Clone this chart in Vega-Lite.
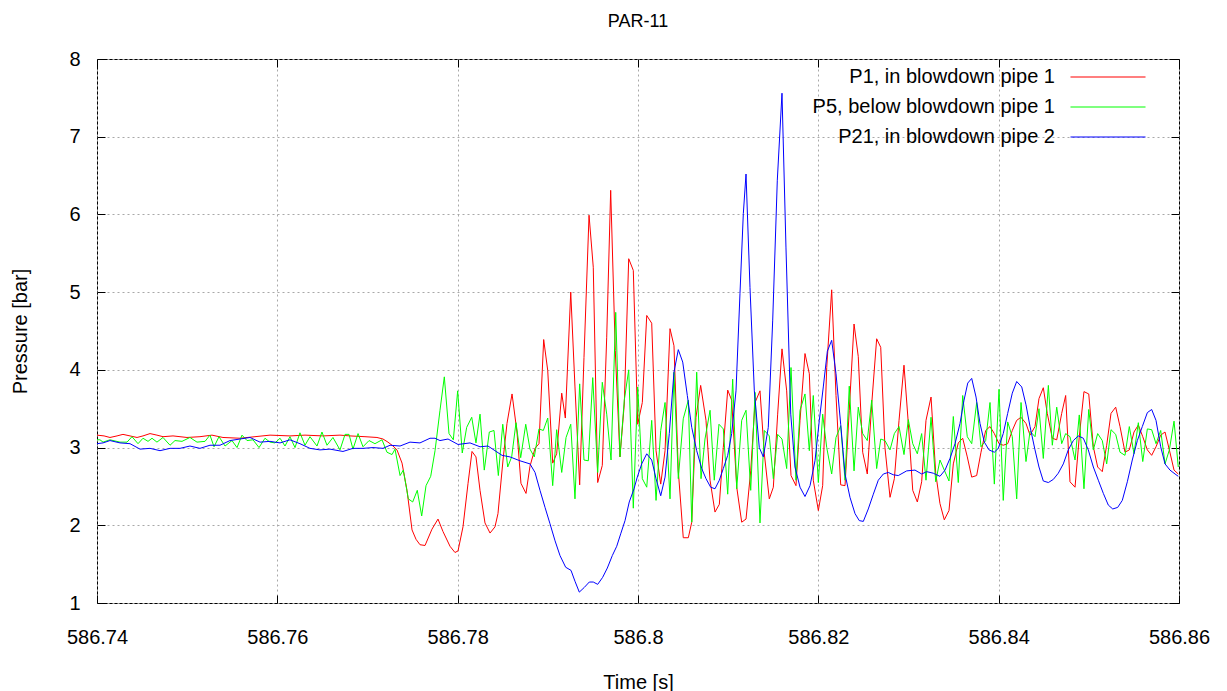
{
  "$schema": "https://vega.github.io/schema/vega-lite/v6.json",
  "width": 1082,
  "height": 544,
  "autosize": {"type": "none"},
  "padding": {"left": 97, "top": 59, "right": 48, "bottom": 88},
  "background": "white",
  "title": {"text": "PAR-11", "fontSize": 18, "font": "Liberation Sans", "fontWeight": "normal", "color": "black", "offset": 0, "baseline": "bottom", "frame": "group"},
  "config": {
    "font": "Liberation Sans",
    "view": {"stroke": "black", "strokeWidth": 1},
    "axis": {"labelFont": "Liberation Sans", "labelFontSize": 20, "titleFont": "Liberation Sans", "titleFontSize": 20, "titleFontWeight": "normal", "labelColor": "black", "titleColor": "black", "domain": false, "gridColor": "#a8a8a8", "gridDash": [2, 3], "gridWidth": 1, "tickColor": "black", "tickSize": -8, "tickWidth": 1, "labelFlush": false, "labelOverlap": false}
  },
  "data": {"values": [
{"s":"P1","t":586.74000,"v":3.16},{"s":"P1","t":586.74078,"v":3.15},{"s":"P1","t":586.74144,"v":3.13},{"s":"P1","t":586.74222,"v":3.15},{"s":"P1","t":586.74288,"v":3.17},{"s":"P1","t":586.74366,"v":3.15},{"s":"P1","t":586.74444,"v":3.13},{"s":"P1","t":586.74510,"v":3.15},{"s":"P1","t":586.74588,"v":3.18},{"s":"P1","t":586.74665,"v":3.16},{"s":"P1","t":586.74732,"v":3.14},{"s":"P1","t":586.74843,"v":3.15},{"s":"P1","t":586.74998,"v":3.13},{"s":"P1","t":586.75142,"v":3.14},{"s":"P1","t":586.75275,"v":3.16},{"s":"P1","t":586.75397,"v":3.13},{"s":"P1","t":586.75586,"v":3.12},{"s":"P1","t":586.75752,"v":3.14},{"s":"P1","t":586.75919,"v":3.16},{"s":"P1","t":586.76140,"v":3.15},{"s":"P1","t":586.76307,"v":3.16},{"s":"P1","t":586.76506,"v":3.15},{"s":"P1","t":586.76695,"v":3.16},{"s":"P1","t":586.76806,"v":3.15},{"s":"P1","t":586.76972,"v":3.14},{"s":"P1","t":586.77105,"v":3.13},{"s":"P1","t":586.77172,"v":3.11},{"s":"P1","t":586.77227,"v":3.07},{"s":"P1","t":586.77283,"v":3.02},{"s":"P1","t":586.77327,"v":2.97},{"s":"P1","t":586.77383,"v":2.80},{"s":"P1","t":586.77438,"v":2.45},{"s":"P1","t":586.77494,"v":1.94},{"s":"P1","t":586.77538,"v":1.82},{"s":"P1","t":586.77582,"v":1.75},{"s":"P1","t":586.77638,"v":1.74},{"s":"P1","t":586.77715,"v":1.95},{"s":"P1","t":586.77782,"v":2.08},{"s":"P1","t":586.77837,"v":1.92},{"s":"P1","t":586.77915,"v":1.73},{"s":"P1","t":586.77970,"v":1.65},{"s":"P1","t":586.78004,"v":1.67},{"s":"P1","t":586.78059,"v":1.98},{"s":"P1","t":586.78115,"v":2.54},{"s":"P1","t":586.78159,"v":2.95},{"s":"P1","t":586.78203,"v":2.88},{"s":"P1","t":586.78248,"v":2.45},{"s":"P1","t":586.78303,"v":2.03},{"s":"P1","t":586.78359,"v":1.90},{"s":"P1","t":586.78414,"v":1.98},{"s":"P1","t":586.78447,"v":2.15},{"s":"P1","t":586.78503,"v":2.84},{"s":"P1","t":586.78547,"v":3.31},{"s":"P1","t":586.78603,"v":3.69},{"s":"P1","t":586.78658,"v":3.20},{"s":"P1","t":586.78702,"v":2.54},{"s":"P1","t":586.78758,"v":2.41},{"s":"P1","t":586.78802,"v":2.76},{"s":"P1","t":586.78858,"v":2.99},{"s":"P1","t":586.78902,"v":3.05},{"s":"P1","t":586.78954,"v":4.39},{"s":"P1","t":586.78999,"v":3.99},{"s":"P1","t":586.79054,"v":2.80},{"s":"P1","t":586.79098,"v":2.92},{"s":"P1","t":586.79154,"v":3.70},{"s":"P1","t":586.79194,"v":3.38},{"s":"P1","t":586.79254,"v":5.00},{"s":"P1","t":586.79301,"v":3.78},{"s":"P1","t":586.79353,"v":2.52},{"s":"P1","t":586.79401,"v":4.16},{"s":"P1","t":586.79457,"v":5.99},{"s":"P1","t":586.79504,"v":5.32},{"s":"P1","t":586.79553,"v":2.55},{"s":"P1","t":586.79604,"v":2.77},{"s":"P1","t":586.79653,"v":4.42},{"s":"P1","t":586.79697,"v":6.31},{"s":"P1","t":586.79748,"v":4.25},{"s":"P1","t":586.79800,"v":2.88},{"s":"P1","t":586.79848,"v":3.56},{"s":"P1","t":586.79897,"v":5.43},{"s":"P1","t":586.79948,"v":5.28},{"s":"P1","t":586.79997,"v":3.30},{"s":"P1","t":586.80048,"v":3.58},{"s":"P1","t":586.80097,"v":4.70},{"s":"P1","t":586.80152,"v":4.60},{"s":"P1","t":586.80200,"v":2.96},{"s":"P1","t":586.80252,"v":2.53},{"s":"P1","t":586.80300,"v":2.96},{"s":"P1","t":586.80355,"v":4.53},{"s":"P1","t":586.80399,"v":4.31},{"s":"P1","t":586.80447,"v":2.70},{"s":"P1","t":586.80502,"v":1.84},{"s":"P1","t":586.80558,"v":1.84},{"s":"P1","t":586.80596,"v":2.04},{"s":"P1","t":586.80643,"v":3.39},{"s":"P1","t":586.80695,"v":3.80},{"s":"P1","t":586.80754,"v":3.35},{"s":"P1","t":586.80799,"v":2.58},{"s":"P1","t":586.80854,"v":2.17},{"s":"P1","t":586.80902,"v":2.27},{"s":"P1","t":586.80946,"v":3.00},{"s":"P1","t":586.80995,"v":3.74},{"s":"P1","t":586.81039,"v":3.61},{"s":"P1","t":586.81095,"v":2.49},{"s":"P1","t":586.81150,"v":2.04},{"s":"P1","t":586.81198,"v":2.08},{"s":"P1","t":586.81250,"v":2.70},{"s":"P1","t":586.81298,"v":3.58},{"s":"P1","t":586.81353,"v":3.73},{"s":"P1","t":586.81401,"v":2.92},{"s":"P1","t":586.81456,"v":2.34},{"s":"P1","t":586.81501,"v":2.49},{"s":"P1","t":586.81549,"v":3.43},{"s":"P1","t":586.81597,"v":4.27},{"s":"P1","t":586.81649,"v":3.73},{"s":"P1","t":586.81697,"v":2.64},{"s":"P1","t":586.81752,"v":2.51},{"s":"P1","t":586.81797,"v":3.35},{"s":"P1","t":586.81852,"v":4.21},{"s":"P1","t":586.81900,"v":3.95},{"s":"P1","t":586.81944,"v":2.58},{"s":"P1","t":586.82000,"v":2.19},{"s":"P1","t":586.82048,"v":2.51},{"s":"P1","t":586.82093,"v":4.03},{"s":"P1","t":586.82148,"v":5.03},{"s":"P1","t":586.82196,"v":3.67},{"s":"P1","t":586.82248,"v":2.52},{"s":"P1","t":586.82296,"v":2.51},{"s":"P1","t":586.82343,"v":3.48},{"s":"P1","t":586.82396,"v":4.59},{"s":"P1","t":586.82443,"v":4.17},{"s":"P1","t":586.82492,"v":2.94},{"s":"P1","t":586.82543,"v":2.66},{"s":"P1","t":586.82592,"v":3.56},{"s":"P1","t":586.82647,"v":4.40},{"s":"P1","t":586.82692,"v":4.29},{"s":"P1","t":586.82739,"v":3.00},{"s":"P1","t":586.82795,"v":2.36},{"s":"P1","t":586.82843,"v":2.60},{"s":"P1","t":586.82895,"v":3.35},{"s":"P1","t":586.82950,"v":4.06},{"s":"P1","t":586.82998,"v":3.31},{"s":"P1","t":586.83047,"v":2.45},{"s":"P1","t":586.83098,"v":2.30},{"s":"P1","t":586.83146,"v":2.56},{"s":"P1","t":586.83194,"v":3.35},{"s":"P1","t":586.83250,"v":3.65},{"s":"P1","t":586.83302,"v":2.67},{"s":"P1","t":586.83349,"v":2.28},{"s":"P1","t":586.83397,"v":2.07},{"s":"P1","t":586.83449,"v":2.19},{"s":"P1","t":586.83497,"v":2.79},{"s":"P1","t":586.83552,"v":3.06},{"s":"P1","t":586.83601,"v":3.12},{"s":"P1","t":586.83652,"v":2.88},{"s":"P1","t":586.83701,"v":2.62},{"s":"P1","t":586.83756,"v":2.64},{"s":"P1","t":586.83804,"v":2.94},{"s":"P1","t":586.83856,"v":3.22},{"s":"P1","t":586.83904,"v":3.27},{"s":"P1","t":586.83952,"v":3.18},{"s":"P1","t":586.84004,"v":3.05},{"s":"P1","t":586.84051,"v":3.03},{"s":"P1","t":586.84100,"v":3.05},{"s":"P1","t":586.84151,"v":3.22},{"s":"P1","t":586.84200,"v":3.35},{"s":"P1","t":586.84248,"v":3.39},{"s":"P1","t":586.84303,"v":3.31},{"s":"P1","t":586.84348,"v":3.16},{"s":"P1","t":586.84403,"v":3.27},{"s":"P1","t":586.84447,"v":3.63},{"s":"P1","t":586.84495,"v":3.77},{"s":"P1","t":586.84539,"v":3.44},{"s":"P1","t":586.84595,"v":3.12},{"s":"P1","t":586.84644,"v":3.10},{"s":"P1","t":586.84699,"v":3.44},{"s":"P1","t":586.84743,"v":3.67},{"s":"P1","t":586.84791,"v":2.56},{"s":"P1","t":586.84847,"v":2.49},{"s":"P1","t":586.84894,"v":3.14},{"s":"P1","t":586.84946,"v":3.72},{"s":"P1","t":586.84999,"v":3.69},{"s":"P1","t":586.85050,"v":3.01},{"s":"P1","t":586.85098,"v":2.75},{"s":"P1","t":586.85149,"v":2.69},{"s":"P1","t":586.85198,"v":3.03},{"s":"P1","t":586.85246,"v":3.44},{"s":"P1","t":586.85298,"v":3.52},{"s":"P1","t":586.85346,"v":3.27},{"s":"P1","t":586.85401,"v":2.94},{"s":"P1","t":586.85449,"v":2.97},{"s":"P1","t":586.85501,"v":3.20},{"s":"P1","t":586.85549,"v":3.29},{"s":"P1","t":586.85598,"v":3.14},{"s":"P1","t":586.85649,"v":2.97},{"s":"P1","t":586.85697,"v":2.90},{"s":"P1","t":586.85745,"v":3.01},{"s":"P1","t":586.85797,"v":3.16},{"s":"P1","t":586.85845,"v":3.20},{"s":"P1","t":586.85893,"v":2.97},{"s":"P1","t":586.85945,"v":2.71},{"s":"P1","t":586.85992,"v":2.66},
{"s":"P5","t":586.74000,"v":3.10},{"s":"P5","t":586.74033,"v":3.10},{"s":"P5","t":586.74067,"v":3.07},{"s":"P5","t":586.74144,"v":3.10},{"s":"P5","t":586.74255,"v":3.07},{"s":"P5","t":586.74333,"v":3.07},{"s":"P5","t":586.74388,"v":3.14},{"s":"P5","t":586.74455,"v":3.05},{"s":"P5","t":586.74510,"v":3.12},{"s":"P5","t":586.74566,"v":3.08},{"s":"P5","t":586.74610,"v":3.12},{"s":"P5","t":586.74665,"v":3.07},{"s":"P5","t":586.74732,"v":3.13},{"s":"P5","t":586.74810,"v":3.03},{"s":"P5","t":586.74865,"v":3.09},{"s":"P5","t":586.74943,"v":3.08},{"s":"P5","t":586.75031,"v":3.13},{"s":"P5","t":586.75109,"v":3.07},{"s":"P5","t":586.75198,"v":3.08},{"s":"P5","t":586.75253,"v":3.16},{"s":"P5","t":586.75298,"v":3.01},{"s":"P5","t":586.75353,"v":3.14},{"s":"P5","t":586.75420,"v":3.02},{"s":"P5","t":586.75497,"v":3.09},{"s":"P5","t":586.75553,"v":3.00},{"s":"P5","t":586.75608,"v":3.16},{"s":"P5","t":586.75664,"v":3.09},{"s":"P5","t":586.75730,"v":3.10},{"s":"P5","t":586.75797,"v":3.00},{"s":"P5","t":586.75863,"v":3.12},{"s":"P5","t":586.75919,"v":3.07},{"s":"P5","t":586.75974,"v":3.06},{"s":"P5","t":586.76030,"v":3.12},{"s":"P5","t":586.76085,"v":3.02},{"s":"P5","t":586.76140,"v":3.14},{"s":"P5","t":586.76196,"v":3.00},{"s":"P5","t":586.76251,"v":3.19},{"s":"P5","t":586.76307,"v":3.03},{"s":"P5","t":586.76362,"v":3.14},{"s":"P5","t":586.76440,"v":3.02},{"s":"P5","t":586.76495,"v":3.20},{"s":"P5","t":586.76551,"v":3.03},{"s":"P5","t":586.76617,"v":3.13},{"s":"P5","t":586.76695,"v":2.97},{"s":"P5","t":586.76751,"v":3.17},{"s":"P5","t":586.76795,"v":3.17},{"s":"P5","t":586.76839,"v":2.98},{"s":"P5","t":586.76895,"v":3.18},{"s":"P5","t":586.76950,"v":3.01},{"s":"P5","t":586.77017,"v":3.09},{"s":"P5","t":586.77083,"v":3.05},{"s":"P5","t":586.77161,"v":3.10},{"s":"P5","t":586.77216,"v":2.94},{"s":"P5","t":586.77272,"v":2.91},{"s":"P5","t":586.77305,"v":2.98},{"s":"P5","t":586.77361,"v":2.64},{"s":"P5","t":586.77397,"v":2.71},{"s":"P5","t":586.77453,"v":2.34},{"s":"P5","t":586.77501,"v":2.30},{"s":"P5","t":586.77552,"v":2.45},{"s":"P5","t":586.77601,"v":2.12},{"s":"P5","t":586.77649,"v":2.51},{"s":"P5","t":586.77701,"v":2.63},{"s":"P5","t":586.77749,"v":2.96},{"s":"P5","t":586.77804,"v":3.48},{"s":"P5","t":586.77852,"v":3.91},{"s":"P5","t":586.77904,"v":3.18},{"s":"P5","t":586.77952,"v":3.10},{"s":"P5","t":586.78000,"v":3.73},{"s":"P5","t":586.78051,"v":2.93},{"s":"P5","t":586.78100,"v":3.26},{"s":"P5","t":586.78156,"v":3.39},{"s":"P5","t":586.78203,"v":3.06},{"s":"P5","t":586.78248,"v":3.43},{"s":"P5","t":586.78295,"v":2.71},{"s":"P5","t":586.78351,"v":3.20},{"s":"P5","t":586.78403,"v":3.22},{"s":"P5","t":586.78451,"v":2.64},{"s":"P5","t":586.78500,"v":3.30},{"s":"P5","t":586.78555,"v":2.75},{"s":"P5","t":586.78599,"v":2.88},{"s":"P5","t":586.78647,"v":3.32},{"s":"P5","t":586.78699,"v":2.87},{"s":"P5","t":586.78755,"v":3.30},{"s":"P5","t":586.78802,"v":2.98},{"s":"P5","t":586.78850,"v":2.88},{"s":"P5","t":586.78902,"v":3.24},{"s":"P5","t":586.78950,"v":3.22},{"s":"P5","t":586.78999,"v":3.38},{"s":"P5","t":586.79054,"v":2.51},{"s":"P5","t":586.79098,"v":3.23},{"s":"P5","t":586.79154,"v":2.68},{"s":"P5","t":586.79202,"v":3.13},{"s":"P5","t":586.79254,"v":3.30},{"s":"P5","t":586.79301,"v":2.34},{"s":"P5","t":586.79353,"v":3.82},{"s":"P5","t":586.79401,"v":2.84},{"s":"P5","t":586.79449,"v":2.83},{"s":"P5","t":586.79498,"v":3.90},{"s":"P5","t":586.79553,"v":2.68},{"s":"P5","t":586.79604,"v":3.84},{"s":"P5","t":586.79653,"v":3.43},{"s":"P5","t":586.79701,"v":2.84},{"s":"P5","t":586.79753,"v":4.74},{"s":"P5","t":586.79800,"v":2.88},{"s":"P5","t":586.79848,"v":3.61},{"s":"P5","t":586.79897,"v":4.00},{"s":"P5","t":586.79948,"v":2.22},{"s":"P5","t":586.79997,"v":3.78},{"s":"P5","t":586.80048,"v":2.60},{"s":"P5","t":586.80097,"v":2.49},{"s":"P5","t":586.80152,"v":3.35},{"s":"P5","t":586.80200,"v":2.32},{"s":"P5","t":586.80252,"v":3.22},{"s":"P5","t":586.80300,"v":3.58},{"s":"P5","t":586.80355,"v":2.34},{"s":"P5","t":586.80399,"v":3.97},{"s":"P5","t":586.80447,"v":2.60},{"s":"P5","t":586.80502,"v":3.37},{"s":"P5","t":586.80558,"v":3.61},{"s":"P5","t":586.80596,"v":2.04},{"s":"P5","t":586.80651,"v":3.97},{"s":"P5","t":586.80699,"v":2.60},{"s":"P5","t":586.80743,"v":3.11},{"s":"P5","t":586.80799,"v":3.48},{"s":"P5","t":586.80846,"v":2.58},{"s":"P5","t":586.80898,"v":3.30},{"s":"P5","t":586.80946,"v":3.24},{"s":"P5","t":586.80995,"v":2.40},{"s":"P5","t":586.81050,"v":3.88},{"s":"P5","t":586.81095,"v":2.47},{"s":"P5","t":586.81150,"v":3.35},{"s":"P5","t":586.81198,"v":3.48},{"s":"P5","t":586.81250,"v":2.45},{"s":"P5","t":586.81298,"v":3.71},{"s":"P5","t":586.81353,"v":2.03},{"s":"P5","t":586.81401,"v":3.22},{"s":"P5","t":586.81456,"v":3.15},{"s":"P5","t":586.81501,"v":2.60},{"s":"P5","t":586.81549,"v":3.17},{"s":"P5","t":586.81597,"v":3.11},{"s":"P5","t":586.81649,"v":2.73},{"s":"P5","t":586.81697,"v":4.03},{"s":"P5","t":586.81752,"v":2.58},{"s":"P5","t":586.81797,"v":3.48},{"s":"P5","t":586.81852,"v":3.69},{"s":"P5","t":586.81900,"v":2.96},{"s":"P5","t":586.81944,"v":3.67},{"s":"P5","t":586.82000,"v":2.55},{"s":"P5","t":586.82048,"v":3.43},{"s":"P5","t":586.82093,"v":3.00},{"s":"P5","t":586.82148,"v":2.66},{"s":"P5","t":586.82196,"v":3.13},{"s":"P5","t":586.82248,"v":3.28},{"s":"P5","t":586.82296,"v":2.58},{"s":"P5","t":586.82343,"v":3.79},{"s":"P5","t":586.82396,"v":2.70},{"s":"P5","t":586.82443,"v":3.52},{"s":"P5","t":586.82492,"v":3.18},{"s":"P5","t":586.82543,"v":3.09},{"s":"P5","t":586.82592,"v":3.61},{"s":"P5","t":586.82647,"v":2.73},{"s":"P5","t":586.82692,"v":3.11},{"s":"P5","t":586.82739,"v":3.09},{"s":"P5","t":586.82795,"v":2.97},{"s":"P5","t":586.82843,"v":3.18},{"s":"P5","t":586.82895,"v":3.27},{"s":"P5","t":586.82950,"v":2.91},{"s":"P5","t":586.82998,"v":3.36},{"s":"P5","t":586.83047,"v":3.05},{"s":"P5","t":586.83098,"v":2.92},{"s":"P5","t":586.83146,"v":3.18},{"s":"P5","t":586.83194,"v":2.58},{"s":"P5","t":586.83250,"v":3.39},{"s":"P5","t":586.83302,"v":2.56},{"s":"P5","t":586.83349,"v":2.84},{"s":"P5","t":586.83397,"v":2.71},{"s":"P5","t":586.83449,"v":2.57},{"s":"P5","t":586.83497,"v":3.40},{"s":"P5","t":586.83552,"v":2.55},{"s":"P5","t":586.83601,"v":3.67},{"s":"P5","t":586.83652,"v":3.14},{"s":"P5","t":586.83701,"v":3.05},{"s":"P5","t":586.83756,"v":3.58},{"s":"P5","t":586.83804,"v":3.01},{"s":"P5","t":586.83856,"v":3.09},{"s":"P5","t":586.83904,"v":3.58},{"s":"P5","t":586.83952,"v":2.53},{"s":"P5","t":586.84004,"v":3.75},{"s":"P5","t":586.84051,"v":2.32},{"s":"P5","t":586.84100,"v":3.33},{"s":"P5","t":586.84151,"v":3.14},{"s":"P5","t":586.84200,"v":2.34},{"s":"P5","t":586.84248,"v":3.58},{"s":"P5","t":586.84303,"v":2.82},{"s":"P5","t":586.84348,"v":3.21},{"s":"P5","t":586.84403,"v":3.14},{"s":"P5","t":586.84447,"v":3.50},{"s":"P5","t":586.84495,"v":2.86},{"s":"P5","t":586.84551,"v":3.80},{"s":"P5","t":586.84595,"v":3.03},{"s":"P5","t":586.84644,"v":3.52},{"s":"P5","t":586.84699,"v":3.05},{"s":"P5","t":586.84743,"v":3.18},{"s":"P5","t":586.84791,"v":3.14},{"s":"P5","t":586.84847,"v":2.84},{"s":"P5","t":586.84894,"v":3.42},{"s":"P5","t":586.84946,"v":2.47},{"s":"P5","t":586.84999,"v":3.49},{"s":"P5","t":586.85050,"v":2.97},{"s":"P5","t":586.85098,"v":3.18},{"s":"P5","t":586.85149,"v":3.09},{"s":"P5","t":586.85198,"v":2.79},{"s":"P5","t":586.85246,"v":3.23},{"s":"P5","t":586.85298,"v":3.17},{"s":"P5","t":586.85346,"v":2.94},{"s":"P5","t":586.85401,"v":2.90},{"s":"P5","t":586.85449,"v":3.27},{"s":"P5","t":586.85501,"v":2.92},{"s":"P5","t":586.85549,"v":3.32},{"s":"P5","t":586.85598,"v":2.82},{"s":"P5","t":586.85649,"v":3.24},{"s":"P5","t":586.85697,"v":3.23},{"s":"P5","t":586.85745,"v":3.05},{"s":"P5","t":586.85797,"v":3.22},{"s":"P5","t":586.85845,"v":2.79},{"s":"P5","t":586.85893,"v":2.97},{"s":"P5","t":586.85945,"v":3.34},{"s":"P5","t":586.85992,"v":2.75},
{"s":"P21","t":586.74000,"v":3.05},{"s":"P21","t":586.74067,"v":3.06},{"s":"P21","t":586.74144,"v":3.09},{"s":"P21","t":586.74255,"v":3.06},{"s":"P21","t":586.74366,"v":3.05},{"s":"P21","t":586.74477,"v":2.98},{"s":"P21","t":586.74588,"v":2.99},{"s":"P21","t":586.74699,"v":2.96},{"s":"P21","t":586.74810,"v":2.99},{"s":"P21","t":586.74921,"v":2.99},{"s":"P21","t":586.75031,"v":3.02},{"s":"P21","t":586.75142,"v":2.99},{"s":"P21","t":586.75253,"v":3.03},{"s":"P21","t":586.75364,"v":3.03},{"s":"P21","t":586.75475,"v":3.09},{"s":"P21","t":586.75586,"v":3.11},{"s":"P21","t":586.75697,"v":3.13},{"s":"P21","t":586.75808,"v":3.07},{"s":"P21","t":586.75919,"v":3.08},{"s":"P21","t":586.76030,"v":3.06},{"s":"P21","t":586.76140,"v":3.10},{"s":"P21","t":586.76251,"v":3.05},{"s":"P21","t":586.76362,"v":2.99},{"s":"P21","t":586.76473,"v":2.97},{"s":"P21","t":586.76584,"v":2.98},{"s":"P21","t":586.76728,"v":2.95},{"s":"P21","t":586.76839,"v":2.99},{"s":"P21","t":586.76950,"v":2.99},{"s":"P21","t":586.77061,"v":3.00},{"s":"P21","t":586.77172,"v":2.99},{"s":"P21","t":586.77250,"v":3.03},{"s":"P21","t":586.77361,"v":3.02},{"s":"P21","t":586.77471,"v":3.07},{"s":"P21","t":586.77582,"v":3.06},{"s":"P21","t":586.77693,"v":3.12},{"s":"P21","t":586.77749,"v":3.12},{"s":"P21","t":586.77804,"v":3.09},{"s":"P21","t":586.77893,"v":3.11},{"s":"P21","t":586.78004,"v":3.04},{"s":"P21","t":586.78137,"v":3.06},{"s":"P21","t":586.78248,"v":3.01},{"s":"P21","t":586.78336,"v":3.02},{"s":"P21","t":586.78414,"v":2.96},{"s":"P21","t":586.78492,"v":2.90},{"s":"P21","t":586.78580,"v":2.88},{"s":"P21","t":586.78691,"v":2.83},{"s":"P21","t":586.78802,"v":2.79},{"s":"P21","t":586.78858,"v":2.68},{"s":"P21","t":586.78913,"v":2.45},{"s":"P21","t":586.78969,"v":2.23},{"s":"P21","t":586.79024,"v":2.02},{"s":"P21","t":586.79080,"v":1.80},{"s":"P21","t":586.79135,"v":1.61},{"s":"P21","t":586.79198,"v":1.46},{"s":"P21","t":586.79257,"v":1.42},{"s":"P21","t":586.79301,"v":1.28},{"s":"P21","t":586.79349,"v":1.14},{"s":"P21","t":586.79404,"v":1.20},{"s":"P21","t":586.79460,"v":1.27},{"s":"P21","t":586.79504,"v":1.27},{"s":"P21","t":586.79553,"v":1.24},{"s":"P21","t":586.79608,"v":1.33},{"s":"P21","t":586.79660,"v":1.45},{"s":"P21","t":586.79715,"v":1.61},{"s":"P21","t":586.79764,"v":1.73},{"s":"P21","t":586.79808,"v":1.89},{"s":"P21","t":586.79856,"v":2.06},{"s":"P21","t":586.79903,"v":2.30},{"s":"P21","t":586.79956,"v":2.47},{"s":"P21","t":586.79992,"v":2.62},{"s":"P21","t":586.80041,"v":2.79},{"s":"P21","t":586.80097,"v":2.92},{"s":"P21","t":586.80152,"v":2.84},{"s":"P21","t":586.80200,"v":2.60},{"s":"P21","t":586.80252,"v":2.38},{"s":"P21","t":586.80300,"v":2.62},{"s":"P21","t":586.80347,"v":3.18},{"s":"P21","t":586.80399,"v":3.97},{"s":"P21","t":586.80447,"v":4.26},{"s":"P21","t":586.80496,"v":4.10},{"s":"P21","t":586.80547,"v":3.67},{"s":"P21","t":586.80596,"v":3.26},{"s":"P21","t":586.80651,"v":2.96},{"s":"P21","t":586.80707,"v":2.73},{"s":"P21","t":586.80754,"v":2.60},{"s":"P21","t":586.80806,"v":2.49},{"s":"P21","t":586.80854,"v":2.47},{"s":"P21","t":586.80902,"v":2.58},{"s":"P21","t":586.80946,"v":2.73},{"s":"P21","t":586.80995,"v":2.90},{"s":"P21","t":586.81039,"v":3.18},{"s":"P21","t":586.81087,"v":3.73},{"s":"P21","t":586.81131,"v":4.98},{"s":"P21","t":586.81168,"v":6.01},{"s":"P21","t":586.81198,"v":6.52},{"s":"P21","t":586.81242,"v":5.06},{"s":"P21","t":586.81290,"v":3.73},{"s":"P21","t":586.81345,"v":3.00},{"s":"P21","t":586.81390,"v":2.88},{"s":"P21","t":586.81445,"v":3.26},{"s":"P21","t":586.81494,"v":4.64},{"s":"P21","t":586.81545,"v":6.44},{"s":"P21","t":586.81597,"v":7.56},{"s":"P21","t":586.81641,"v":5.58},{"s":"P21","t":586.81694,"v":3.43},{"s":"P21","t":586.81741,"v":2.75},{"s":"P21","t":586.81797,"v":2.49},{"s":"P21","t":586.81852,"v":2.37},{"s":"P21","t":586.81908,"v":2.51},{"s":"P21","t":586.81963,"v":2.83},{"s":"P21","t":586.82011,"v":3.35},{"s":"P21","t":586.82055,"v":3.78},{"s":"P21","t":586.82100,"v":4.24},{"s":"P21","t":586.82148,"v":4.38},{"s":"P21","t":586.82196,"v":3.95},{"s":"P21","t":586.82248,"v":3.30},{"s":"P21","t":586.82296,"v":2.66},{"s":"P21","t":586.82351,"v":2.36},{"s":"P21","t":586.82407,"v":2.15},{"s":"P21","t":586.82454,"v":2.06},{"s":"P21","t":586.82499,"v":2.05},{"s":"P21","t":586.82554,"v":2.21},{"s":"P21","t":586.82610,"v":2.40},{"s":"P21","t":586.82665,"v":2.58},{"s":"P21","t":586.82721,"v":2.66},{"s":"P21","t":586.82776,"v":2.68},{"s":"P21","t":586.82831,"v":2.65},{"s":"P21","t":586.82887,"v":2.64},{"s":"P21","t":586.82980,"v":2.70},{"s":"P21","t":586.83072,"v":2.71},{"s":"P21","t":586.83146,"v":2.66},{"s":"P21","t":586.83202,"v":2.69},{"s":"P21","t":586.83275,"v":2.67},{"s":"P21","t":586.83349,"v":2.63},{"s":"P21","t":586.83405,"v":2.71},{"s":"P21","t":586.83460,"v":2.86},{"s":"P21","t":586.83516,"v":3.05},{"s":"P21","t":586.83571,"v":3.31},{"s":"P21","t":586.83616,"v":3.61},{"s":"P21","t":586.83657,"v":3.83},{"s":"P21","t":586.83701,"v":3.89},{"s":"P21","t":586.83749,"v":3.65},{"s":"P21","t":586.83793,"v":3.31},{"s":"P21","t":586.83841,"v":3.07},{"s":"P21","t":586.83893,"v":2.97},{"s":"P21","t":586.83952,"v":2.94},{"s":"P21","t":586.83996,"v":2.99},{"s":"P21","t":586.84051,"v":3.18},{"s":"P21","t":586.84100,"v":3.44},{"s":"P21","t":586.84151,"v":3.70},{"s":"P21","t":586.84200,"v":3.85},{"s":"P21","t":586.84256,"v":3.78},{"s":"P21","t":586.84303,"v":3.55},{"s":"P21","t":586.84348,"v":3.27},{"s":"P21","t":586.84403,"v":2.97},{"s":"P21","t":586.84447,"v":2.75},{"s":"P21","t":586.84495,"v":2.57},{"s":"P21","t":586.84551,"v":2.55},{"s":"P21","t":586.84606,"v":2.59},{"s":"P21","t":586.84661,"v":2.67},{"s":"P21","t":586.84717,"v":2.79},{"s":"P21","t":586.84772,"v":2.97},{"s":"P21","t":586.84828,"v":3.09},{"s":"P21","t":586.84883,"v":3.15},{"s":"P21","t":586.84939,"v":3.12},{"s":"P21","t":586.84994,"v":2.97},{"s":"P21","t":586.85050,"v":2.75},{"s":"P21","t":586.85105,"v":2.58},{"s":"P21","t":586.85161,"v":2.41},{"s":"P21","t":586.85216,"v":2.26},{"s":"P21","t":586.85265,"v":2.21},{"s":"P21","t":586.85320,"v":2.23},{"s":"P21","t":586.85371,"v":2.32},{"s":"P21","t":586.85427,"v":2.56},{"s":"P21","t":586.85482,"v":2.84},{"s":"P21","t":586.85538,"v":3.09},{"s":"P21","t":586.85593,"v":3.27},{"s":"P21","t":586.85649,"v":3.45},{"s":"P21","t":586.85697,"v":3.49},{"s":"P21","t":586.85745,"v":3.35},{"s":"P21","t":586.85797,"v":3.01},{"s":"P21","t":586.85845,"v":2.79},{"s":"P21","t":586.85900,"v":2.71},{"s":"P21","t":586.85956,"v":2.66},{"s":"P21","t":586.85992,"v":2.63}
  ]},
  "layer": [
    {
      "mark": {"type": "line", "strokeWidth": 1, "clip": true},
      "encoding": {
        "x": {"field": "t", "type": "quantitative", "scale": {"domain": [586.74, 586.86], "nice": false, "zero": false},
              "axis": {"title": "Time [s]", "values": [586.74, 586.76, 586.78, 586.8, 586.82, 586.84, 586.86], "format": ".2~f", "grid": true, "labelPadding": 32, "titleX": 541, "titleY": 69, "titleBaseline": "top"}},
        "y": {"field": "v", "type": "quantitative", "scale": {"domain": [1, 8], "nice": false, "zero": false},
              "axis": {"title": "Pressure [bar]", "values": [1, 2, 3, 4, 5, 6, 7, 8], "format": "d", "grid": true, "labelPadding": 25, "titleX": -77, "titleY": 272, "titleBaseline": "middle"}},
        "color": {"field": "s", "type": "nominal", "sort": ["P1", "P5", "P21"],
                  "scale": {"domain": ["P1", "P5", "P21"], "range": ["#ff0000", "#00ff00", "#0000ff"]},
                  "legend": {"title": null, "orient": "none", "legendX": 1001, "legendY": 8, "direction": "vertical",
                             "symbolType": "M-4,0H4", "symbolSize": 352, "symbolStrokeWidth": 1.2, "rowPadding": 10, "padding": 0,
                             "labelAlign": "right", "labelOffset": -63, "labelFontSize": 20, "labelFont": "Liberation Sans", "labelColor": "black", "labelLimit": 0,
                             "labelExpr": "datum.value == 'P1' ? 'P1, in blowdown pipe 1' : datum.value == 'P5' ? 'P5, below blowdown pipe 1' : 'P21, in blowdown pipe 2'"}}
      }
    },
    {
      "mark": {"type": "point", "opacity": 0},
      "encoding": {
        "x": {"field": "t", "type": "quantitative", "axis": {"orient": "top", "labels": false, "title": null, "grid": false, "values": [586.74, 586.76, 586.78, 586.8, 586.82, 586.84, 586.86]}},
        "y": {"field": "v", "type": "quantitative", "axis": {"orient": "right", "labels": false, "title": null, "grid": false, "values": [1, 2, 3, 4, 5, 6, 7, 8]}}
      }
    }
  ],
  "resolve": {"axis": {"x": "independent", "y": "independent"}}
}
